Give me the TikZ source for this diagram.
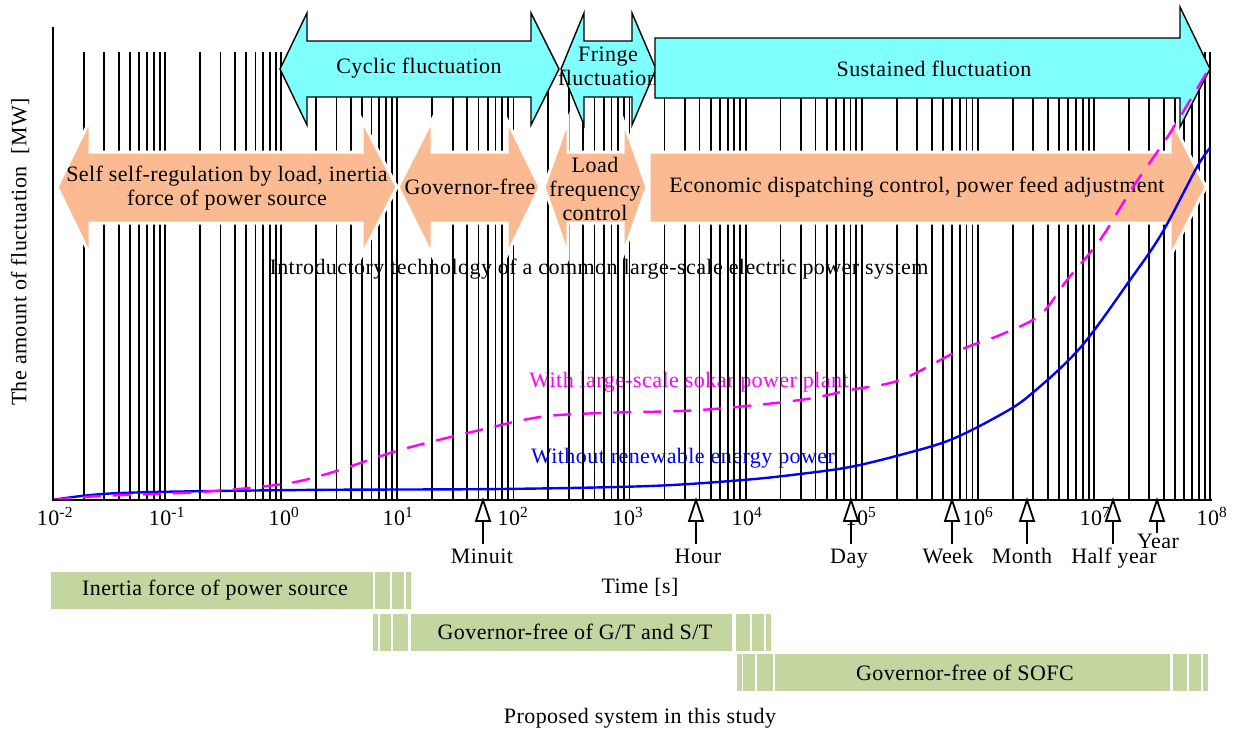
\documentclass[tikz,border=0pt]{standalone}
\usepackage{fontspec}
\setmainfont{Liberation Serif}[LetterSpace=2]
\usetikzlibrary{arrows.meta}
\definecolor{flucfill}{RGB}{128,255,255}
\definecolor{ctrlfill}{RGB}{251,186,146}
\definecolor{barfill}{RGB}{196,214,160}
\definecolor{solarmag}{RGB}{255,0,255}
\definecolor{baseblue}{RGB}{0,0,255}
\begin{document}
\begin{tikzpicture}[x=1pt,y=-1pt,
  every node/.style={font=\fontsize{22}{24}\selectfont, inner sep=0pt},
  gridline/.style={line width=1.8pt},
  axisline/.style={line width=2pt},
  flucarrow/.style={fill=flucfill, draw=black, line width=1.4pt, line join=miter},
  ctrlarrow/.style={fill=ctrlfill, draw=white, line width=3pt},
  bar/.style={fill=barfill},
  curvebase/.style={baseblue, line width=2.4pt},
  curvesolar/.style={solarmag, line width=2.4pt, dash pattern=on 18pt off 12pt},
  stem/.style={line width=2pt},
  marktip/.style={fill=white, draw=black, line width=1.8pt, line join=miter},
]
\useasboundingbox (0,0) rectangle (1233,731);

% captions lying under the grid
\node (intro) at (599,269) {Introductory technology of a common large-scale electric power system};
\node[text=solarmag] (legsolar) at (689,382) {With large-scale sokar power plant};
\node[text=baseblue] (legbase) at (683,458) {Without renewable energy power};

% logarithmic grid, 10^-2 ... 10^8
\foreach \d in {0,...,9}{
  \foreach \m in {2,...,10}{
    \pgfmathsetmacro\gx{49+116.1*(\d+ln(\m)/ln(10))}
    \draw[gridline] (\gx,52) -- (\gx,500);
  }
}

% fluctuation classes
\draw[flucarrow] (280,69) -- (307,13) -- (307,41) -- (531,41) -- (531,13) -- (559,69)
  -- (531,125) -- (531,97) -- (307,97) -- (307,125) -- cycle;
\node (cyclic) at (419,68) {Cyclic fluctuation};
\fill[flucfill] (561,69) -- (584,13) -- (584,41) -- (632,41) -- (632,13) -- (656,69)
  -- (632,125) -- (632,97) -- (584,97) -- (584,125) -- cycle;
\node[align=center] (fringe) at (608,66) {Fringe\\fluctuation};
\draw[flucarrow, fill=none] (561,69) -- (584,13) -- (584,41) -- (632,41) -- (632,13) -- (656,69)
  -- (632,125) -- (632,97) -- (584,97) -- (584,125) -- cycle;
\draw[flucarrow] (655,38) -- (1180,38) -- (1180,7) -- (1210,69) -- (1180,127) -- (1180,98)
  -- (655,98) -- cycle;
\node (sustained) at (934,69) {Sustained fluctuation};

% control measures
\draw[ctrlarrow] (57,187) -- (90,120) -- (90,152) -- (362,152) -- (362,120) -- (397,187)
  -- (362,255) -- (362,223) -- (90,223) -- (90,255) -- cycle;
\node[align=center] (selfreg) at (227,188) {Self self-regulation by load, inertia\\force of power source};
\draw[ctrlarrow] (398,187) -- (432,120) -- (432,152) -- (507,152) -- (507,120) -- (540,187)
  -- (507,255) -- (507,223) -- (432,223) -- (432,255) -- cycle;
\node (govfree) at (470,187) {Governor-free};
\draw[ctrlarrow] (544,187) -- (568,120) -- (568,152) -- (623,152) -- (623,120) -- (647,187)
  -- (623,255) -- (623,223) -- (568,223) -- (568,255) -- cycle;
\node[align=center] (lfc) at (595,189) {Load\\frequency\\control};
\draw[ctrlarrow] (649,152) -- (1170,152) -- (1170,117) -- (1206,187) -- (1170,257)
  -- (1170,223) -- (649,223) -- cycle;
\node (edc) at (917,187) {Economic dispatching control, power feed adjustment};

% fluctuation curves
\draw[curvebase] plot[smooth, tension=0.55] coordinates {(53,500) (120,493) (300,490) (500,489)
  (650,486) (743,480) (800,474) (850,467) (900,455) (950,440) (1000,415) (1030,395)
  (1080,348) (1130,280) (1162,233) (1197,167) (1210,148)};
\draw[curvesolar] plot[smooth, tension=0.55] coordinates {(53,500) (100,496) (200,492) (283,484)
  (330,473) (400,450) (480,430) (540,417) (600,413) (700,410) (800,400) (850,390) (900,380)
  (960,350) (1000,335) (1040,315) (1067,280) (1100,240) (1133,187) (1170,133) (1210,67)};

% axes
\draw[axisline] (53,27) -- (53,500) -- (1212,500);
\foreach \x/\e [count=\i] in {55/-2,167/-1,284/0,398/1,513/2,628/3,747/4,861/5,978/6,1095/7,1212/8}
  \node[anchor=base] (tick\i) at (\x,525) {10\textsuperscript{\e}};
\node[rotate=90] (ylab) at (20,252) {The amount of fluctuation\ \ [MW]};
\node (xlab) at (640,587) {Time [s]};

% time marks
\foreach \x/\lx/\ly/\sy/\txt/\nm in {483/482/563/544/Minuit/min, 696/698/563/544/Hour/hour,
    851/849/563/544/Day/day, 952/948/563/544/Week/week, 1027/1022/563/544/Month/month,
    1113/1114/563/544/Half year/half, 1157/1158/548/533/Year/year}{
  \coordinate (t\nm) at (\x,500);
  \coordinate (b\nm) at (\x,521);
  \coordinate (s\nm) at (\x,\sy);
  \node[anchor=base] (l\nm) at (\lx,\ly) {\txt};
  \draw[stem] (s\nm) -- (b\nm);
  \draw[marktip] (t\nm) -- ++(-7,21) -- ++(14,0) -- cycle;
}

% proposed system
\fill[bar] (51,572) rectangle (373,609);
\foreach \a/\b in {375/390,392/404,406/411} \fill[bar] (\a,572) rectangle (\b,609);
\node (inertia) at (215,590) {Inertia force of power source};
\foreach \a/\b in {373/378,380/391,393/408,736/750,752/764,766/771} \fill[bar] (\a,614) rectangle (\b,651);
\fill[bar] (411,614) rectangle (732,651);
\node (gtst) at (575,632) {Governor-free of G/T and S/T};
\foreach \a/\b in {737/742,743/755,757/773,1173/1187,1189/1201,1203/1208} \fill[bar] (\a,654) rectangle (\b,691);
\fill[bar] (775,654) rectangle (1170,691);
\node (sofc) at (965,673) {Governor-free of SOFC};
\node (proposed) at (640,718) {Proposed system in this study};
\end{tikzpicture}
\end{document}
